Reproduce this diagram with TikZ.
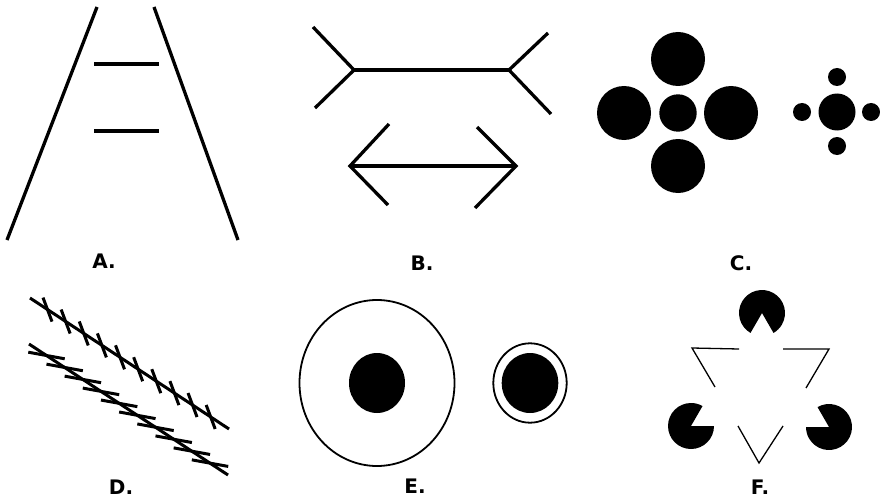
\documentclass[tikz,border=0pt]{standalone}
\usepackage{fontspec}
\setmainfont{DejaVu Sans}
\begin{document}
\begin{tikzpicture}[x=1pt,y=1pt,yscale=-1,
  heavy/.style={line width=3.3pt},
  dline/.style={line width=3.0pt},
  ering/.style={line width=1.8pt},
  fine/.style={line width=1.3pt},
  blob/.style={fill=black},
  lbl/.style={font=\fontsize{20}{22}\selectfont\bfseries, inner sep=0pt}]
\useasboundingbox (0,0) rectangle (880,500);
% ---- A: Ponzo
\draw[heavy] (7,240) -- (97,7);
\draw[heavy] (154,7) -- (238,240);
\draw[heavy] (94,64) -- (159,64);
\draw[heavy] (94,131) -- (159,131);
\node[lbl] (labA) at (104,261) {A.};
% ---- B: Mueller-Lyer
\draw[heavy] (354,70) -- (509,70);
\draw[heavy] (313,27) -- (354,70) -- (315,108);
\draw[heavy] (548,33) -- (509,70) -- (551,114);
\draw[heavy] (350,166) -- (516,166);
\draw[heavy] (389,124) -- (350,166) -- (388,205);
\draw[heavy] (477,127) -- (516,166) -- (475,208);
\node[lbl] (labB) at (422,263) {B.};
% ---- C: Ebbinghaus
\fill[blob] (678,59) circle (27);
\fill[blob] (624,113) circle (27);
\fill[blob] (731,113) circle (27);
\fill[blob] (678,166) circle (27);
\fill[blob] (678,113) circle (18.7);
\fill[blob] (837,112) circle (18.5);
\fill[blob] (837,77) circle (9);
\fill[blob] (802,112) circle (9);
\fill[blob] (871,112) circle (9);
\fill[blob] (837,146) circle (9);
\node[lbl] (labC) at (741,263) {C.};
% ---- D: Zoellner
\draw[dline] (30,298) -- (229,429);
\draw[dline] (29,344) -- (228,475);
\foreach \i in {0,...,9}{
  \draw[dline] ({47.5+18.13*\i-4.5},{309.6+11.93*\i-12}) -- ++(9,24);
  \draw[dline] ({46.5+18.17*\i-18.2},{355.5+11.96*\i-3.3}) -- ++(36.4,6.6);
}
\node[lbl] (labD) at (121,487) {D.};
% ---- E: Delboeuf
\draw[ering] (377,383) ellipse [x radius=77.5, y radius=83];
\fill[blob] (377,383) ellipse [x radius=28, y radius=30];
\draw[ering] (530,383) ellipse [x radius=36.7, y radius=39.7];
\fill[blob] (530,383) ellipse [x radius=28.3, y radius=30];
\node[lbl] (labE) at (415,486) {E.};
% ---- F: Kanizsa
\fill[blob] (762,313) -- ++(120:23) arc (120:420:23) -- cycle;
\fill[blob] (691,426) -- ++(0:23) arc (0:300:23) -- cycle;
\fill[blob] (829,427) -- ++(240:23) arc (240:540:23) -- cycle;
\draw[fine] (739,349) -- (692,348) -- (715,387);
\draw[fine] (783,349) -- (829,349) -- (806,388);
\draw[fine] (738,426) -- (759,463) -- (783,426);
\node[lbl] (labF) at (760,487) {F.};
\end{tikzpicture}
\end{document}
